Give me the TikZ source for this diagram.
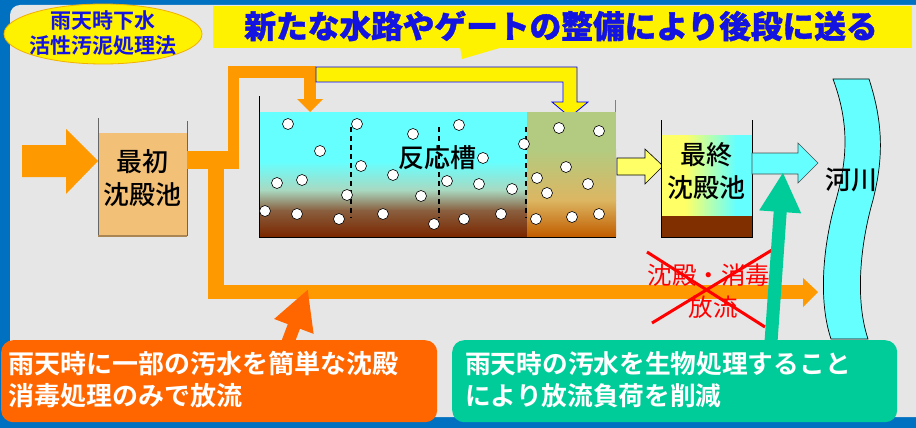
\documentclass[tikz,border=0pt]{standalone}
\usepackage{fontspec}
\newfontfamily\jp[BoldFont={Noto Sans CJK JP Bold}]{Noto Sans CJK JP}
\newfontfamily\jpmed{Noto Sans CJK JP Medium}
\newfontfamily\jpheavy[FakeBold=1.2]{Noto Sans CJK JP Black}
\usetikzlibrary{arrows.meta,shapes.geometric}
\definecolor{frameblue}{HTML}{0070C0}
\definecolor{panelgray}{HTML}{E6E6E6}
\definecolor{pipeorange}{HTML}{FF9900}
\definecolor{titleblue}{RGB}{20,20,225}
\definecolor{tankone}{HTML}{F2C077}
\definecolor{aqua}{HTML}{66FFFF}
\definecolor{mudA}{HTML}{A9D8C0}
\definecolor{mudB}{HTML}{8A6040}
\definecolor{mudC}{HTML}{7A2800}
\definecolor{oliveA}{HTML}{B3CB80}
\definecolor{oliveB}{HTML}{DCB662}
\definecolor{oliveC}{HTML}{C25E00}
\definecolor{sludge}{HTML}{7F2F00}
\definecolor{paleyellow}{HTML}{FFFF66}
\definecolor{noteorange}{HTML}{FF6600}
\definecolor{notegreen}{HTML}{00CC99}
\definecolor{ellipseedge}{HTML}{F0B000}
\tikzset{
  jptext/.style={font=\jp, inner sep=0pt},
  tanklabel/.style={jptext, font=\jpmed\fontsize{26}{33}\selectfont, align=center},
  bubble/.style={circle, fill=white, draw=black, line width=0.6pt, minimum size=11pt, inner sep=0pt},
  wall/.style={line width=1pt},
  pipe/.style={fill=pipeorange},
  notearrow/.style={line width=13pt, -{Triangle[width=39pt,length=40pt]}},
  notetext/.style={jptext, text=white, font=\jp\bfseries\fontsize{26}{32}\selectfont, align=left, anchor=west},
}
\begin{document}
\begin{tikzpicture}[x=1pt,y=-1pt]
\useasboundingbox (0,0) rectangle (916,428);
% frame and panel
\fill[frameblue] (0,0) rectangle (916,428);
\fill[panelgray, rounded corners=10pt] (10,5) rectangle (940,417);

% method label
\node[ellipse, fill=yellow, draw=ellipseedge, line width=0.8pt, minimum width=198pt, minimum height=60pt, inner sep=0pt] (method) at (103,34) {};
\node[jptext, text=titleblue, font=\jp\bfseries\fontsize{21}{25}\selectfont, align=center] (methodtxt) at (103,33) {雨天時下水\\活性汚泥処理法};

% headline banner
\fill[yellow] (213,6) rectangle (912,48);
\fill[yellow] (460,47) -- (462,59) -- (503,47) -- cycle;
\node[jptext, text=titleblue, font=\jpheavy\fontsize{31.7}{36}\selectfont] (headline) at (561,26) {新たな水路やゲートの整備により後段に送る};

% inflow arrow
\fill[pipe] (22,145) -- (66,145) -- (66,129) -- (98,161) -- (66,194) -- (66,177) -- (22,177) -- cycle;

% primary settling tank
\fill[tankone] (98,133) rectangle (187,236);
\draw[wall, draw=gray!80!black] (98,118) -- (98,236);
\draw[wall, draw=gray!80!black] (187,121) -- (187,236);
\draw[line width=1.2pt, draw=tankone!70!black] (98,236) -- (187,236);
\node[tanklabel] (primary) at (142.5,178.5) {最初\\沈殿池};

% orange pipes: to the reactor inlet and the bypass
\fill[pipe] (187,151) rectangle (239,169);
\fill[pipe] (228,66) rectangle (239,169);
\fill[pipe] (228,66) rectangle (316,78);
\fill[pipe] (304,78) rectangle (316,100);
\fill[pipe] (297,99) -- (323,99) -- (310,112) -- cycle;
\fill[pipe] (208,169) rectangle (224,299);
\fill[pipe] (208,285) rectangle (804,299);
\fill[pipe] (803,278) -- (818,292) -- (803,307) -- cycle;
\coordinate (bypass) at (308,289);

% new channel to the rear of the reactor
\filldraw[fill=yellow, draw=blue, line width=0.8pt] (316,67) -- (577,67) -- (577,102) -- (588,102) -- (570,117) -- (552,102) -- (563,102) -- (563,82) -- (316,82) -- cycle;

% reactor
\fill[aqua] (260,112) rectangle (527,162);
\shade[top color=aqua, bottom color=mudA] (260,161.5) rectangle (527,190.5);
\shade[top color=mudA, bottom color=mudB] (260,190) rectangle (527,210.5);
\shade[top color=mudB, bottom color=mudC] (260,210) rectangle (527,236);
\fill[oliveA] (527,112) rectangle (616,150);
\shade[top color=oliveA, bottom color=oliveB] (527,149.5) rectangle (616,200.5);
\shade[top color=oliveB, bottom color=oliveC] (527,200) rectangle (616,236);
\draw[wall] (259,96) -- (259,237) -- (616,237);
\draw[wall, draw=gray] (615.5,100) -- (615.5,112);
\node[tanklabel] (reactor) at (437,158) {反応槽};
\foreach \dx in {351,439,526}
  \draw[line width=1.3pt, dash pattern=on 5pt off 4pt] (\dx,127) -- (\dx,218);
\foreach \bx/\by in {288/124,357/124,459/125,413/134,320/151,524/144,361/166,483/158,
  393/175,277/183,302/180,447/181,479/184,512/189,347/195,421/196,265/211,297/214,
  339/219,383/214,434/224,464/219,501/214,537/178,547/193,536/219,559/128,599/131,
  566/167,588/184,572/217,599/214}
  \node[bubble] at (\bx,\by) {};

% reactor to final tank
\filldraw[fill=paleyellow, draw=black, line width=0.6pt] (617,158) -- (645,158) -- (645,149) -- (663,166) -- (645,184) -- (645,175) -- (617,175) -- cycle;

% final settling tank
\fill[paleyellow] (661,135) rectangle (686,237);
\shade[left color=paleyellow, right color=aqua] (685.5,135) rectangle (735.5,237);
\fill[aqua] (735,135) rectangle (752,237);
\fill[sludge] (661,216) rectangle (752,237);
\draw[wall] (661,120) -- (661,237) -- (752,237) -- (752,120);
\node[tanklabel] (final) at (706,171) {最終\\沈殿池};

% final tank to river
\filldraw[fill=aqua, draw=black!70, line width=0.6pt] (752,153) -- (798,153) -- (798,143) -- (818,163) -- (798,183) -- (798,174) -- (752,174) -- cycle;

% river
\filldraw[fill=aqua, draw=black, line width=0.7pt]
  (833,79) -- (869,79)
  .. controls (884,125) and (883,160) .. (873,200)
  .. controls (860,245) and (855,300) .. (868,339)
  -- (831,339)
  .. controls (818,300) and (823,245) .. (836,200)
  .. controls (847,160) and (850,125) .. (833,79) -- cycle;
\node[tanklabel] (river) at (851,180) {河川};

% crossed-out disinfection discharge
\node[jptext, text=red, font=\jp\fontsize{24.5}{30}\selectfont] (oldline1) at (709,275) {沈殿・消毒};
\node[jptext, text=red, font=\jp\fontsize{24.5}{30}\selectfont] (oldline2) at (713,307) {放流};
\draw[red, line width=3pt] (647,252) -- (765,327);
\draw[red, line width=3pt] (652,323) -- (772,250);

% notes
\coordinate (bionote) at (783,172);
\draw[notearrow, draw=notegreen, fill=notegreen] (771,342) -- (bionote);
\draw[notearrow, draw=noteorange, fill=noteorange] (288,342) -- (bypass);
\node[fill=noteorange, rounded corners=12pt, minimum width=436pt, minimum height=82pt, anchor=north west, inner sep=0pt] (simplebox) at (1,340) {};
\node[notetext] (simpletxt) at (8,379.5) {雨天時に一部の汚水を簡単な沈殿\\消毒処理のみで放流};
\node[fill=notegreen, rounded corners=12pt, minimum width=445pt, minimum height=82pt, anchor=north west, inner sep=0pt] (biobox) at (452,340) {};
\node[notetext, font=\jp\bfseries\fontsize{25.7}{32}\selectfont] (biotxt) at (465,379.5) {雨天時の汚水を生物処理すること\\により放流負荷を削減};
\end{tikzpicture}
\end{document}
